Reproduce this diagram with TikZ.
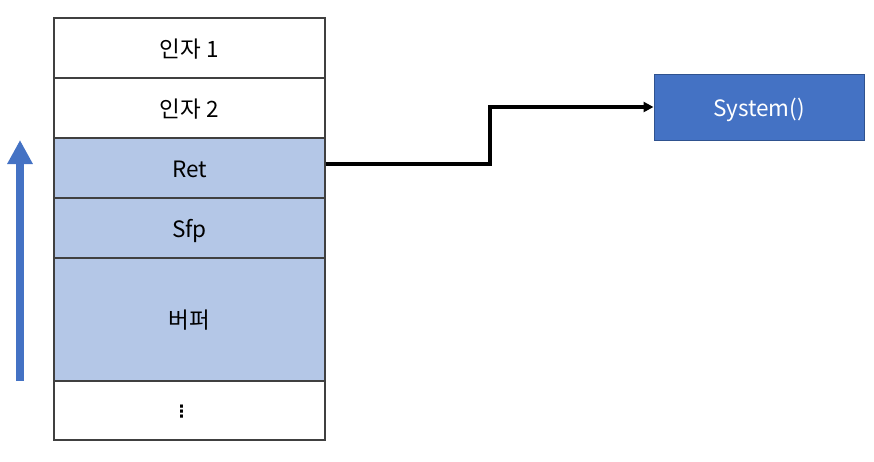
\documentclass[tikz,border=0pt]{standalone}
\usepackage{fontspec}
\setmainfont{Noto Sans CJK KR}
\newfontfamily\symfont{DejaVu Sans}
\usetikzlibrary{arrows.meta}
\definecolor{cellfill}{HTML}{B4C7E7}
\definecolor{bluefill}{HTML}{4472C4}
\definecolor{blueedge}{HTML}{2F528F}
\definecolor{celledge}{HTML}{404040}
\tikzset{
  cell/.style={draw=celledge, line width=1.2pt, minimum width=271pt, inner sep=0pt, text height=22pt, text depth=4pt, font=\fontsize{22.5}{26}\selectfont, text=black},
  hicell/.style={cell, fill=cellfill},
  sysbox/.style={draw=blueedge, line width=1pt, fill=bluefill, minimum width=210pt, minimum height=66pt, inner sep=0pt, text height=22pt, text depth=4pt, text=white, font=\fontsize{22.5}{26}\selectfont},
  link/.style={line width=3.2pt, -{Triangle[length=10pt,width=10pt]}}
}
\begin{document}
\begin{tikzpicture}[x=1pt,y=-1pt]
\useasboundingbox (0,0) rectangle (874,461);
\node[cell, minimum height=60pt] (a1) at (189.5,48) {인자\hspace{6pt}1};
\node[cell, minimum height=60pt] (a2) at (189.5,108) {인자\hspace{6pt}2};
\node[hicell, minimum height=60pt] (ret) at (189.5,168) {Ret};
\node[hicell, minimum height=60pt] (sfp) at (189.5,228) {Sfp};
\node[hicell, minimum height=123pt] (buf) at (189.5,319.5) {버퍼};
\node[cell, minimum height=59pt, text height=13pt, text depth=0pt] (dots) at (189.5,410.5) {\hbox{\symfont\bfseries\fontsize{17}{18}\selectfont ⋮\kern16pt}};
\node[sysbox] (sys) at (759,107) {System()};
\coordinate (bend) at (490,164);
\draw[link] (ret.east |- 0,164) -- (bend) |- (sys.west);
\coordinate (aB) at (20,381);
\coordinate (aT) at (20,140);
\draw[bluefill, line width=8pt, -{Triangle[length=24pt,width=24pt]}] (aB) -- (aT);
\end{tikzpicture}
\end{document}
